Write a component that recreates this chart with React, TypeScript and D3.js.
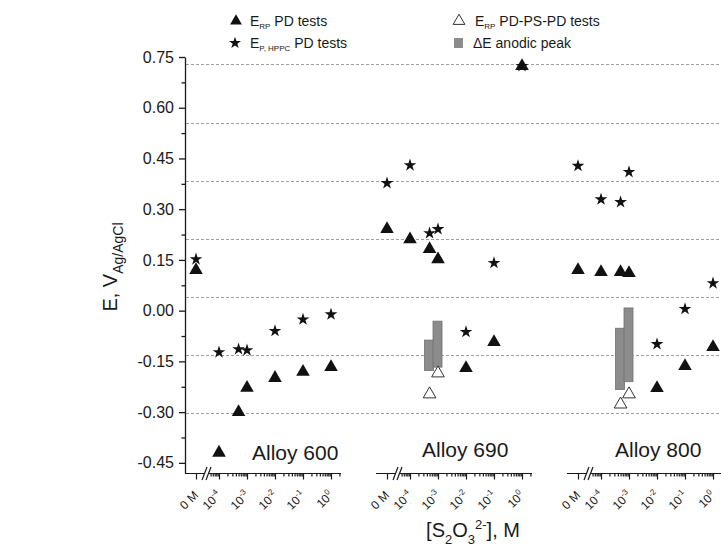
import React, { useEffect, useRef } from "react";
import * as d3 from "d3";

// thiosulfate concentrations, 0 = "0 M" point left of the axis break
const concentrations = [0, 1e-4, 5e-4, 1e-3, 1e-2, 1e-1, 1];
const alloyNames = ["Alloy 600", "Alloy 690", "Alloy 800"];

// E_RP from PD tests
const erpPd600 = [0.12, -0.42, -0.3, -0.228, -0.199, -0.181, -0.167];
const erpPd690 = [0.241, 0.211, 0.182, 0.152, -0.17, -0.093, 0.723];
const erpPd800 = [0.12, 0.114, 0.114, 0.111, -0.229, -0.164, -0.108];

// E_P,HPPC from PD tests
const epPd600 = [0.152, -0.123, -0.114, -0.117, -0.06, -0.026, -0.011];
const epPd690 = [0.377, 0.43, 0.229, 0.241, -0.063, 0.141, 0.723];
const epPd800 = [0.428, 0.329, 0.321, 0.41, -0.099, 0.005, 0.081];

// E_RP from PD-PS-PD tests (only 690 and 800)
const psConc = [5e-4, 1e-3];
const erpPs690 = [-0.247, -0.185];
const erpPs800 = [-0.277, -0.247];

// anodic peak ranges
const peakLow690 = [-0.177, -0.167];
const peakHigh690 = [-0.087, -0.031];
const peakLow800 = [-0.233, -0.21];
const peakHigh800 = [-0.052, 0.008];

const yTicks = [-0.45, -0.3, -0.15, 0, 0.15, 0.3, 0.45, 0.6, 0.75];
const gridLevels = [0.729, 0.556, 0.384, 0.213, 0.041, -0.131, -0.304];
const decades = [-4, -3, -2, -1, 0];

const FONT = "'Liberation Sans', Arial, sans-serif";
const INK = "#1a1a1a";

const App = () => {
  const svgRef = useRef<SVGSVGElement>(null);

  const width = 721;
  const height = 546;
  const axisY = 473;
  const panelLeft = [185, 376, 567];
  const panelWidth = 156;

  useEffect(() => {
    const svg = d3.select(svgRef.current);
    svg.selectAll("*").remove();

    const y = d3.scaleLinear().domain([-0.48, 0.75]).range([axisY, 57]);

    // GRID
    svg
      .append("g")
      .selectAll("line")
      .data(gridLevels)
      .join("line")
      .attr("x1", 186)
      .attr("x2", width)
      .attr("y1", d => Math.round(y(d)) + 0.5)
      .attr("y2", d => Math.round(y(d)) + 0.5)
      .attr("stroke", "#a0a0a0")
      .attr("stroke-width", 1)
      .attr("stroke-dasharray", "3,2");

    // Y AXIS
    const minor = d3.range(-0.45, 0.75, 0.15).map(d => d + 0.075);
    const gMinor = svg
      .append("g")
      .attr("transform", "translate(185,0)")
      .call(d3.axisLeft(y).tickValues(minor).tickSize(3.5).tickFormat(() => ""));
    gMinor.select(".domain").remove();

    const gy = svg
      .append("g")
      .attr("transform", "translate(185,0)")
      .call(
        d3
          .axisLeft(y)
          .tickValues(yTicks)
          .tickSize(6)
          .tickSizeOuter(0)
          .tickPadding(5)
          .tickFormat(d => (d as number).toFixed(2))
      );
    gy.selectAll("text")
      .attr("font-family", FONT)
      .attr("font-size", 16)
      .attr("fill", INK);
    gy.selectAll("line, path").attr("stroke", INK).attr("stroke-width", 1.3);
    gMinor.selectAll("line").attr("stroke", INK).attr("stroke-width", 1.3);

    const sym = (type: d3.SymbolType, size: number) => d3.symbol().type(type).size(size)();

    const panels = [
      { rp: erpPd600, ep: epPd600, ps: [] as number[], lo: [] as number[], hi: [] as number[], labelDx: 67 },
      { rp: erpPd690, ep: epPd690, ps: erpPs690, lo: peakLow690, hi: peakHigh690, labelDx: 46 },
      { rp: erpPd800, ep: epPd800, ps: erpPs800, lo: peakLow800, hi: peakHigh800, labelDx: 48 },
    ];

    panels.forEach((p, i) => {
      const left = panelLeft[i];
      const x = d3.scaleLog().domain([1e-4, 1]).range([left + 34, left + 146]);
      const zeroX = left + 11;
      const breakX = left + 22;
      const xPos = (c: number) => (c === 0 ? zeroX : x(c));
      const g = svg.append("g");

      // axis line
      g.append("line")
        .attr("x1", left)
        .attr("x2", left + panelWidth)
        .attr("y1", axisY + 0.5)
        .attr("y2", axisY + 0.5)
        .attr("stroke", INK)
        .attr("stroke-width", 1.3);

      // major ticks on log part
      const gx = g
        .append("g")
        .attr("transform", `translate(0,${axisY})`)
        .call(
          d3
            .axisBottom(x)
            .tickValues(decades.map(d => Math.pow(10, d)))
            .tickSize(6.5)
            .tickFormat(() => "")
        );
      gx.select(".domain").remove();

      const lo = x.invert(breakX + 3);
      const hi = x.invert(left + panelWidth);
      const minors: number[] = [];
      for (let e = -5; e <= 0; e++) {
        for (let m = 2; m <= 9; m++) {
          const v = m * Math.pow(10, e);
          if (v > lo && v < hi) minors.push(v);
        }
      }
      const gxm = g
        .append("g")
        .attr("transform", `translate(0,${axisY})`)
        .call(d3.axisBottom(x).tickValues(minors).tickSize(3.5).tickFormat(() => ""));
      gxm.select(".domain").remove();
      g.selectAll("g line").attr("stroke", INK).attr("stroke-width", 1.2);

      // zero tick
      g.append("line")
        .attr("x1", zeroX + 0.5)
        .attr("x2", zeroX + 0.5)
        .attr("y1", axisY)
        .attr("y2", axisY + 6.5)
        .attr("stroke", INK)
        .attr("stroke-width", 1.2);

      // axis break
      g.append("rect")
        .attr("x", breakX - 2)
        .attr("y", axisY - 2)
        .attr("width", 3)
        .attr("height", 5)
        .attr("fill", "#fff");
      [-2.5, 1.5].forEach(off => {
        g.append("line")
          .attr("x1", breakX + off - 2.5)
          .attr("y1", axisY + 7)
          .attr("x2", breakX + off + 2.5)
          .attr("y2", axisY - 6)
          .attr("stroke", INK)
          .attr("stroke-width", 1.2);
      });

      // tick labels, rotated 45 degrees, ending under the tick
      const lab = (tx: number) =>
        g
          .append("text")
          .attr("transform", `translate(${tx + 3},${axisY + 23}) rotate(-45)`)
          .attr("text-anchor", "end")
          .attr("font-family", FONT)
          .attr("font-size", 12)
          .attr("fill", INK);
      lab(zeroX).text("0 M");
      decades.forEach(d => {
        const t = lab(x(Math.pow(10, d)));
        t.append("tspan").text("10");
        t.append("tspan").attr("font-size", 8).attr("dy", -5).text(String(d));
      });

      // alloy label
      g.append("text")
        .attr("x", left + p.labelDx)
        .attr("y", i === 0 ? 460 : 457)
        .attr("font-family", FONT)
        .attr("font-size", 21)
        .attr("fill", INK)
        .text(alloyNames[i]);

      // anodic peak bars
      p.lo.forEach((l, k) => {
        const cx = x(psConc[k]);
        g.append("rect")
          .attr("x", cx - 5)
          .attr("width", 9)
          .attr("y", y(p.hi[k]))
          .attr("height", y(l) - y(p.hi[k]))
          .attr("fill", "#8c8c8c")
          .attr("stroke", "#6f6f6f")
          .attr("stroke-width", 0.8);
      });

      // open triangles
      g.selectAll(".ps")
        .data(p.ps)
        .join("path")
        .attr("class", "ps")
        .attr("transform", (d, k) => `translate(${x(psConc[k])},${y(d)})`)
        .attr("d", sym(d3.symbolTriangle, 70))
        .attr("fill", "#fff")
        .attr("stroke", "#333")
        .attr("stroke-width", 1);

      // stars
      g.selectAll(".ep")
        .data(p.ep)
        .join("path")
        .attr("class", "ep")
        .attr("transform", (d, k) => `translate(${xPos(concentrations[k])},${y(d)})`)
        .attr("d", sym(d3.symbolStar, 50))
        .attr("fill", "#111");

      // filled triangles
      g.selectAll(".rp")
        .data(p.rp)
        .join("path")
        .attr("class", "rp")
        .attr("transform", (d, k) => `translate(${xPos(concentrations[k])},${y(d)})`)
        .attr("d", sym(d3.symbolTriangle, 80))
        .attr("fill", "#111");
    });

    // AXIS TITLES
    const yt = svg
      .append("text")
      .attr("transform", "translate(117,267) rotate(-90)")
      .attr("text-anchor", "middle")
      .attr("font-family", FONT)
      .attr("font-size", 20)
      .attr("fill", INK);
    yt.append("tspan").text("E, V");
    yt.append("tspan").attr("font-size", 14).attr("dy", 6).text("Ag/AgCl");

    const xt = svg
      .append("text")
      .attr("x", 473)
      .attr("y", 537)
      .attr("text-anchor", "middle")
      .attr("font-family", FONT)
      .attr("font-size", 20)
      .attr("fill", INK);
    xt.append("tspan").text("[S");
    xt.append("tspan").attr("font-size", 13).attr("dy", 7).text("2");
    xt.append("tspan").attr("dy", -7).text("O");
    xt.append("tspan").attr("font-size", 13).attr("dy", 7).text("3");
    xt.append("tspan").attr("font-size", 13).attr("dy", -15).text("2-");
    xt.append("tspan").attr("dy", 8).text("], M");

    // LEGEND
    const leg = svg.append("g").attr("font-family", FONT).attr("fill", INK);
    const entry = (lx: number, ly: number, main: string, sub: string, rest: string) => {
      const t = leg.append("text").attr("x", lx).attr("y", ly + 5).attr("font-size", 14);
      t.append("tspan").text(main);
      t.append("tspan").attr("font-size", 8).attr("dy", 3).text(sub);
      t.append("tspan").attr("dy", -3).text(rest);
    };
    leg.append("path")
      .attr("transform", "translate(236,21)")
      .attr("d", sym(d3.symbolTriangle, 60))
      .attr("fill", "#111");
    entry(250, 21, "E", "RP", " PD tests");
    leg.append("path")
      .attr("transform", "translate(235,43)")
      .attr("d", sym(d3.symbolStar, 45))
      .attr("fill", "#111");
    entry(250, 43, "E", "P, HPPC", " PD tests");
    leg.append("path")
      .attr("transform", "translate(459,21)")
      .attr("d", sym(d3.symbolTriangle, 60))
      .attr("fill", "#fff")
      .attr("stroke", "#333");
    entry(475, 21, "E", "RP", " PD-PS-PD tests");
    leg.append("rect")
      .attr("x", 454)
      .attr("y", 38)
      .attr("width", 9)
      .attr("height", 10)
      .attr("fill", "#8c8c8c");
    leg.append("text").attr("x", 473).attr("y", 48).attr("font-size", 14).text("\u0394E anodic peak");
  }, []);

  return (
    <div style={{ position: "absolute", left: 0, top: 0 }}>
      <svg ref={svgRef} width={width} height={height} style={{ display: "block", background: "#fff" }} />
    </div>
  );
};

export default App;
